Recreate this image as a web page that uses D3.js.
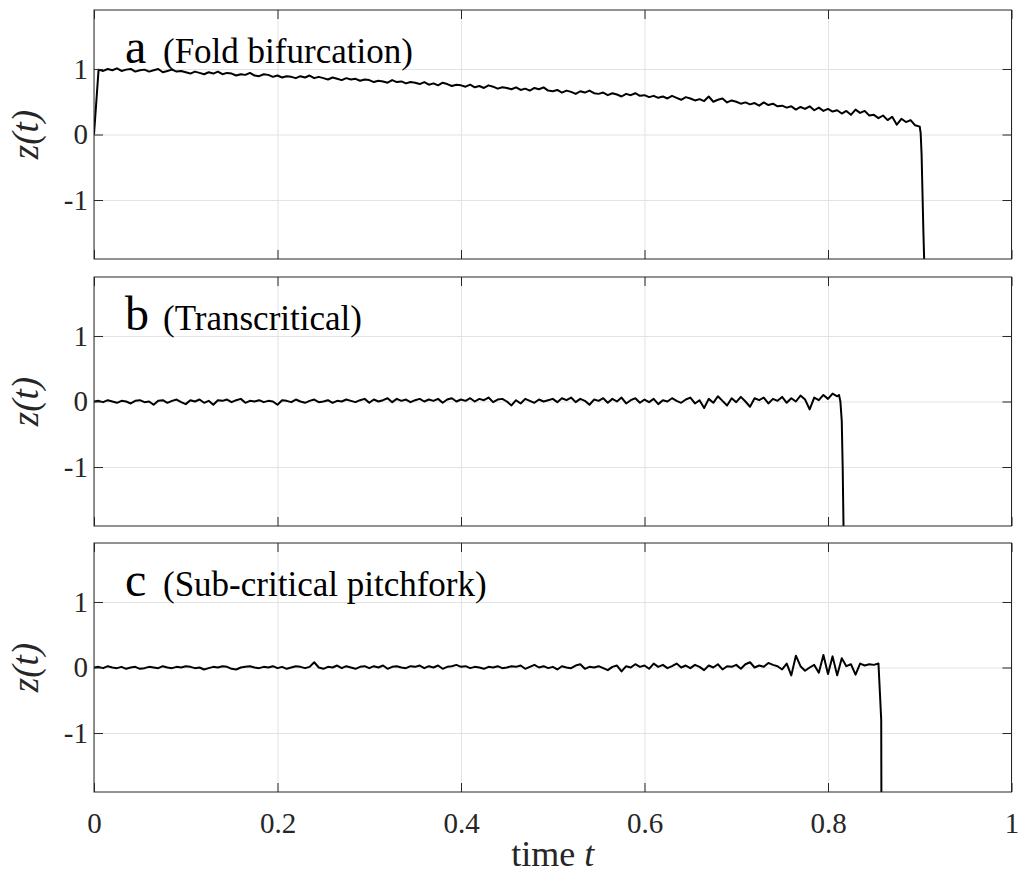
<!DOCTYPE html>
<meta charset="utf-8">
<style>
    body { margin: 0; background: #fff; }
    svg text { fill: #262626; }
    .grid line { stroke: #e3e3e3; stroke-width: 1; }
    .grid .domain { display: none; }
    .axis line { stroke: #262626; }
    .axis .domain { display: none; }
    .axis text { font-size: 29px; }
    .frame { fill: none; stroke: #262626; stroke-width: 1; }
    .trace { fill: none; stroke: #000; stroke-width: 2; stroke-linejoin: round; }
</style>
<body></body>
<script src="https://cdn.jsdelivr.net/npm/d3@7"></script>
<script>

    // sample spacing of the traces (time units)
    var dt = 0.005;

    var xTicks = [0, 0.2, 0.4, 0.6, 0.8, 1];
    var yTicks = [-1, 0, 1];

    var panelLetters = ["a", "b", "c"];
    var panelTitles = ["(Fold bifurcation)", "(Transcritical)", "(Sub-critical pitchfork)"];

    // a: fold bifurcation, z(t) read every dt from t = 0 to 0.9
    var zFold = [
        0.00, 0.99, 0.97, 1.00, 0.98, 1.01, 0.97, 0.99, 1.00, 0.96,
        0.98, 0.99, 0.96, 0.98, 1.00, 0.95, 0.97, 0.99, 0.96, 0.97,
        0.95, 0.93, 0.96, 0.94, 0.92, 0.95, 0.93, 0.96, 0.92, 0.94,
        0.93, 0.90, 0.92, 0.91, 0.94, 0.90, 0.89, 0.92, 0.91, 0.88,
        0.90, 0.87, 0.89, 0.88, 0.86, 0.89, 0.87, 0.90, 0.86, 0.88,
        0.86, 0.84, 0.87, 0.85, 0.83, 0.86, 0.84, 0.85, 0.82, 0.84,
        0.83, 0.80, 0.82, 0.81, 0.79, 0.83, 0.80, 0.81, 0.78, 0.80,
        0.79, 0.77, 0.80, 0.76, 0.78, 0.75, 0.79, 0.77, 0.74, 0.76,
        0.75, 0.73, 0.76, 0.72, 0.74, 0.71, 0.75, 0.73, 0.70, 0.72,
        0.71, 0.69, 0.72, 0.68, 0.70, 0.67, 0.71, 0.69, 0.72, 0.67,
        0.66, 0.68, 0.64, 0.67, 0.65, 0.62, 0.66, 0.64, 0.67, 0.63,
        0.62, 0.64, 0.60, 0.63, 0.61, 0.58, 0.62, 0.60, 0.63, 0.59,
        0.60, 0.57, 0.59, 0.56, 0.58, 0.55, 0.59, 0.56, 0.53, 0.57,
        0.55, 0.52, 0.54, 0.51, 0.58, 0.50, 0.53, 0.55, 0.49, 0.52,
        0.50, 0.47, 0.49, 0.46, 0.48, 0.44, 0.49, 0.45, 0.47, 0.43,
        0.44, 0.41, 0.43, 0.38, 0.42, 0.39, 0.43, 0.37, 0.41, 0.36,
        0.39, 0.35, 0.37, 0.32, 0.36, 0.30, 0.38, 0.33, 0.36, 0.29,
        0.30, 0.25, 0.29, 0.22, 0.27, 0.15, 0.24, 0.19, 0.22, 0.14,
        0.12
    ];
    var foldTailT = [0.901, 0.902, 0.903, 0.904, 0.905];
    var foldTailZ = [0.02, -0.30, -0.90, -1.50, -2.00];

    // b: transcritical, t = 0 to 0.81
    var zTrans = [
        0.00, 0.01, -0.01, 0.02, 0.00, -0.02, 0.01, 0.00, -0.03, 0.01,
        0.02, -0.01, 0.00, -0.05, 0.01, 0.02, -0.02, 0.01, 0.03, -0.01,
        -0.04, 0.02, 0.00, 0.03, -0.02, 0.01, -0.05, 0.02, 0.01, 0.03,
        -0.01, 0.02, 0.04, -0.02, 0.01, 0.00, 0.02, -0.01, 0.01, 0.00,
        -0.05, 0.02, 0.01, -0.01, 0.03, 0.00, -0.02, 0.01, 0.03, -0.01,
        0.00, 0.02, -0.02, 0.01, 0.00, 0.03, 0.01, -0.01, 0.02, 0.04,
        -0.02, 0.03, 0.00, 0.02, 0.05, -0.01, 0.04, 0.01, 0.03, -0.01,
        0.02, 0.04, 0.00, 0.03, 0.01, 0.04, -0.02, 0.03, 0.05, 0.00,
        0.03, 0.01, 0.05, 0.00, 0.04, 0.02, 0.06, -0.01, 0.03, 0.04,
        0.00, -0.06, 0.02, -0.03, 0.04, 0.01, -0.02, 0.03, 0.00, 0.02,
        0.04, -0.01, 0.05, 0.02, 0.06, -0.01, 0.04, 0.01, -0.05, 0.03,
        0.01, 0.05, -0.02, 0.04, 0.00, 0.06, -0.03, 0.02, 0.05, -0.02,
        0.03, -0.01, 0.04, -0.04, 0.02, 0.00, 0.05, 0.01, -0.02, 0.03,
        0.06, -0.03, 0.02, -0.10, 0.04, -0.02, 0.08, 0.01, -0.06, 0.05,
        -0.01, 0.07, 0.00, -0.08, 0.05, 0.02, 0.06, -0.03, 0.04, 0.01,
        0.07, -0.02, 0.05, 0.00, 0.09, 0.03, -0.12, 0.06, 0.02, 0.10,
        0.04, 0.12, 0.08
    ];
    var transTailT = [0.812, 0.8135, 0.815, 0.816, 0.8165, 0.817];
    var transTailZ = [0.10, 0.00, -0.30, -1.00, -1.50, -2.00];

    // c: sub-critical pitchfork, t = 0 to 0.855
    var zPitch = [
        0.00, 0.01, -0.01, 0.02, 0.00, -0.01, 0.01, -0.02, 0.00, 0.01,
        -0.02, -0.01, 0.01, 0.00, -0.01, 0.02, 0.00, -0.01, 0.01, 0.00,
        0.02, 0.01, -0.01, 0.00, -0.03, -0.01, 0.01, 0.00, 0.02, 0.01,
        -0.02, -0.03, 0.00, 0.01, 0.02, 0.00, -0.01, 0.01, 0.00, 0.02,
        -0.01, 0.01, -0.02, 0.00, 0.02, 0.01, -0.01, 0.01, 0.08, 0.00,
        -0.02, 0.01, 0.00, 0.03, -0.01, 0.02, 0.00, -0.02, 0.01, 0.02,
        -0.01, 0.02, 0.00, 0.03, -0.02, 0.01, 0.02, 0.00, -0.01, 0.02,
        0.01, 0.03, -0.01, 0.02, 0.00, 0.03, -0.02, 0.01, 0.02, 0.04,
        0.01, 0.02, -0.01, 0.01, 0.00, -0.02, 0.01, 0.00, 0.02, -0.01,
        0.00, 0.02, 0.01, 0.03, -0.02, 0.01, 0.04, 0.00, 0.02, -0.01,
        0.01, -0.03, 0.02, 0.00, -0.01, 0.03, 0.05, -0.02, 0.01, 0.00,
        0.02, -0.01, -0.04, 0.01, 0.03, -0.06, 0.02, 0.00, 0.05, 0.01,
        0.03, -0.02, 0.06, 0.01, 0.04, -0.01, 0.02, 0.06, 0.00, 0.03,
        -0.01, 0.04, 0.01, -0.04, 0.03, 0.00, 0.05, -0.03, 0.02, 0.01,
        0.04, -0.02, 0.05, 0.08, 0.00, 0.03, 0.01, 0.07, 0.04, 0.02,
        -0.03, 0.06, -0.12, 0.18, 0.02, -0.05, 0.00, 0.04, -0.08, 0.19,
        -0.10, 0.17, -0.12, 0.14, 0.02, 0.05, -0.11, 0.06, 0.03, 0.05,
        0.04, 0.06
    ];
    var pitchTailT = [0.8567, 0.858, 0.8582];
    var pitchTailZ = [-0.42, -0.80, -2.00];

    function toPoints(values, tailT, tailZ) {
        var pts = values.map(function(z, i) { return [i * dt, z]; });
        tailT.forEach(function(t, i) { pts.push([t, tailZ[i]]); });
        return pts;
    }

    var series = [
        toPoints(zFold, foldTailT, foldTailZ),
        toPoints(zTrans, transTailT, transTailZ),
        toPoints(zPitch, pitchTailT, pitchTailZ)
    ];

    var W = 1019, H = 874;
    var left = 94, right = 1011.5;
    var panelTops = [10, 277, 543];
    var panelH = 249;
    var tick = 9;
    var serif = "'Liberation Serif', 'DejaVu Serif', serif";

    var svg = d3.select("body").append("svg")
        .attr("width", W)
        .attr("height", H)
        .attr("font-family", serif);

    var x = d3.scaleLinear().domain([0, 1]).range([left, right]);

    var line = d3.line()
        .x(function(d) { return x(d[0]); });

    panelTops.forEach(function(top, p) {
        var y = d3.scaleLinear().domain([-1.9, 1.9]).range([top + panelH, top]);
        var g = svg.append("g");

        // grid
        g.append("g").attr("class", "grid")
            .attr("transform", "translate(0," + (top + panelH) + ")")
            .call(d3.axisBottom(x).tickValues(xTicks).tickSize(-panelH).tickFormat(""));
        g.append("g").attr("class", "grid")
            .attr("transform", "translate(" + left + ",0)")
            .call(d3.axisLeft(y).tickValues(yTicks).tickSize(-(right - left)).tickFormat(""));

        // clip + trace
        g.append("clipPath").attr("id", "clip" + p)
            .append("rect")
            .attr("x", left).attr("y", top)
            .attr("width", right - left).attr("height", panelH);

        g.append("path")
            .datum(series[p])
            .attr("class", "trace")
            .attr("clip-path", "url(#clip" + p + ")")
            .attr("d", line.y(function(d) { return y(d[1]); }));

        // inward ticks on all four sides
        g.append("g").attr("class", "axis")
            .attr("transform", "translate(" + left + ",0)")
            .call(d3.axisLeft(y).tickValues(yTicks).tickSize(-tick).tickSizeOuter(0).tickPadding(6)
                .tickFormat(function(d) { return String(d); }));
        g.append("g").attr("class", "axis")
            .attr("transform", "translate(" + right + ",0)")
            .call(d3.axisRight(y).tickValues(yTicks).tickSize(-tick).tickSizeOuter(0).tickFormat(""));
        g.append("g").attr("class", "axis")
            .attr("transform", "translate(0," + top + ")")
            .call(d3.axisTop(x).tickValues(xTicks).tickSize(-tick).tickSizeOuter(0).tickFormat(""));
        g.append("g").attr("class", "axis")
            .attr("transform", "translate(0," + (top + panelH) + ")")
            .call(d3.axisBottom(x).tickValues(xTicks).tickSize(-tick).tickSizeOuter(0).tickPadding(20)
                .tickFormat(p === 2 ? function(d) { return String(d); } : ""));

        g.selectAll(".axis").attr("font-family", serif);

        g.append("rect").attr("class", "frame")
            .attr("x", left).attr("y", top)
            .attr("width", right - left).attr("height", panelH);

        // panel letter and title
        g.append("text")
            .attr("x", 125).attr("y", top + 53)
            .style("font-size", "48px").style("fill", "#000")
            .text(panelLetters[p]);
        g.append("text")
            .attr("x", 163).attr("y", top + 53)
            .style("font-size", "35px").style("fill", "#000")
            .text(panelTitles[p]);

        // y label
        g.append("text")
            .attr("transform", "translate(38," + y(0) + ") rotate(-90)")
            .attr("text-anchor", "middle")
            .style("font-size", "37px").style("font-style", "italic")
            .text("z(t)");
    });

    // x label
    svg.append("text")
        .attr("x", (left + right) / 2).attr("y", 866)
        .attr("text-anchor", "middle")
        .style("font-size", "36px")
        .html("time <tspan font-style='italic'>t</tspan>");

</script>
